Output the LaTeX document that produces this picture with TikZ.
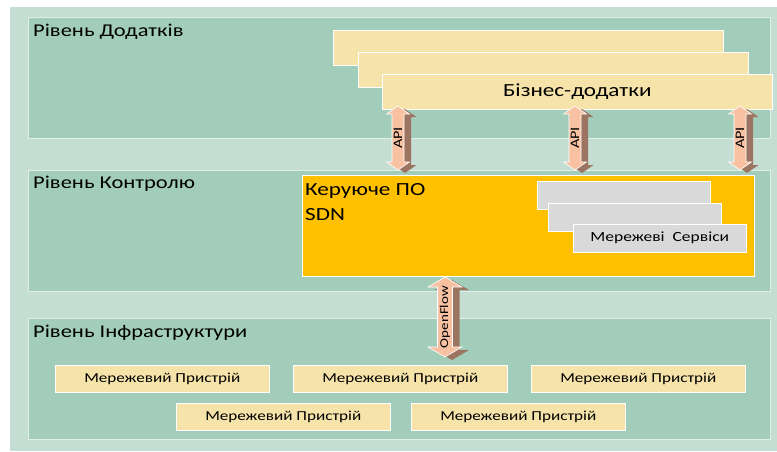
\documentclass[tikz,border=0pt]{standalone}
\usepackage{fontspec}
\setmainfont{Carlito}[FakeStretch=1.25]
\usetikzlibrary{calc}
\definecolor{bgl}{HTML}{C4DED3}
\definecolor{pan}{HTML}{A3CDBB}
\definecolor{panline}{HTML}{E2EFE9}
\definecolor{biz}{HTML}{F6E3A9}
\definecolor{orng}{HTML}{FFC000}
\definecolor{gry}{HTML}{D9D9D9}
\definecolor{aface}{HTML}{F8C2A2}
\definecolor{aside}{HTML}{9B7561}
\newcommand\blockarr[7]{%
  \path[fill=aside] let \p1=($#1+(7pt,-3pt)$), \p2=($#2+(7pt,-3pt)$) in
    (\x1,\y1) -- (\x1+#4pt,\y1-#5pt) -- (\x1+#3pt,\y1-#5pt) -- (\x2+#3pt,\y2+#5pt) -- (\x2+#4pt,\y2+#5pt)
    -- (\x2,\y2) -- (\x2-#4pt,\y2+#5pt) -- (\x2-#3pt,\y2+#5pt) -- (\x1-#3pt,\y1-#5pt) -- (\x1-#4pt,\y1-#5pt) -- cycle;
  \path[fill=aface, draw=white, line width=0.6pt] let \p1=#1, \p2=#2 in
    (\x1,\y1) -- (\x1+#4pt,\y1-#5pt) -- (\x1+#3pt,\y1-#5pt) -- (\x2+#3pt,\y2+#5pt) -- (\x2+#4pt,\y2+#5pt)
    -- (\x2,\y2) -- (\x2-#4pt,\y2+#5pt) -- (\x2-#3pt,\y2+#5pt) -- (\x1-#3pt,\y1-#5pt) -- (\x1-#4pt,\y1-#5pt) -- cycle;
  \node[rotate=90, font=\fontsize{#7}{#7}\selectfont, inner sep=0] at ($#1!0.5!#2$) {#6};
}
\begin{document}
\begin{tikzpicture}[x=1pt,y=-1pt,
  panel/.style={draw=panline, line width=0.8pt, fill=pan, anchor=north west, minimum width=742pt, minimum height=121pt, inner sep=0},
  ltitle/.style={anchor=west, inner sep=0, font=\fontsize{18}{20}\selectfont},
  bizbox/.style={draw=white, line width=0.6pt, fill=biz, anchor=north west, minimum width=390pt, minimum height=35pt, inner sep=0},
  graybox/.style={draw=white, line width=0.6pt, fill=gry, anchor=north west, minimum width=173pt, minimum height=28pt, inner sep=0},
  devbox/.style={draw=white, line width=0.6pt, fill=biz, anchor=north west, minimum width=214pt, minimum height=27pt, inner sep=0, font=\fontsize{13.7}{16}\selectfont},
]
\useasboundingbox (0,0) rectangle (777,451);
\fill[white] (0,0) rectangle (777,451);
\fill[bgl] (10,7) rectangle (777,451);

% layers
\node[panel] (appl) at (28,17) {};
\node[panel] (ctrl) at (28,170) {};
\node[panel] (infr) at (28,318) {};
\node[ltitle] (applt) at (33,32) {Рівень Додатків};
\node[ltitle] (ctrlt) at (33,184) {Рівень Контролю};
\node[ltitle] (infrt) at (33,333) {Рівень Інфраструктури};

% business apps
\node[bizbox] (biz1) at (333,30) {};
\node[bizbox] (biz2) at (358,52) {};
\node[bizbox, font=\fontsize{18.5}{20}\selectfont] (biz3) at (382,74) {Бізнес-додатки};

% controller
\node[draw=white, line width=0.6pt, fill=orng, anchor=north west, minimum width=452pt, minimum height=101pt, inner sep=0] (sdn) at (302,175) {};
\node[anchor=north west, align=left, inner sep=0, font=\fontsize{18.5}{25}\selectfont] (sdnt) at (305,183) {Керуюче ПО\\SDN};
\node[graybox] (srv1) at (537,181) {};
\node[graybox] (srv2) at (548,203) {};
\node[graybox, font=\fontsize{14}{16}\selectfont] (srv3) at (573,224) {Мережеві\ \ Сервіси};

% devices
\node[devbox] (d1) at (55,365) {Мережевий Пристрій};
\node[devbox] (d2) at (293,365) {Мережевий Пристрій};
\node[devbox] (d3) at (531,365) {Мережевий Пристрій};
\node[devbox] (d4) at (176,403) {Мережевий Пристрій};
\node[devbox] (d5) at (411,403) {Мережевий Пристрій};

% arrows
\coordinate (a1t) at (398,106); \coordinate (a1b) at (398,170);
\coordinate (a2t) at (575,106); \coordinate (a2b) at (575,170);
\coordinate (a3t) at (740,106); \coordinate (a3b) at (740,170);
\coordinate (oft) at (445,277); \coordinate (ofb) at (445,357);
\blockarr{(a1t)}{(a1b)}{6}{11.5}{8}{API}{13}
\blockarr{(a2t)}{(a2b)}{6}{11.5}{8}{API}{13}
\blockarr{(a3t)}{(a3b)}{6}{11.5}{8}{API}{13}
\blockarr{(oft)}{(ofb)}{7.5}{17}{10}{OpenFlow}{12}
\end{tikzpicture}
\end{document}
